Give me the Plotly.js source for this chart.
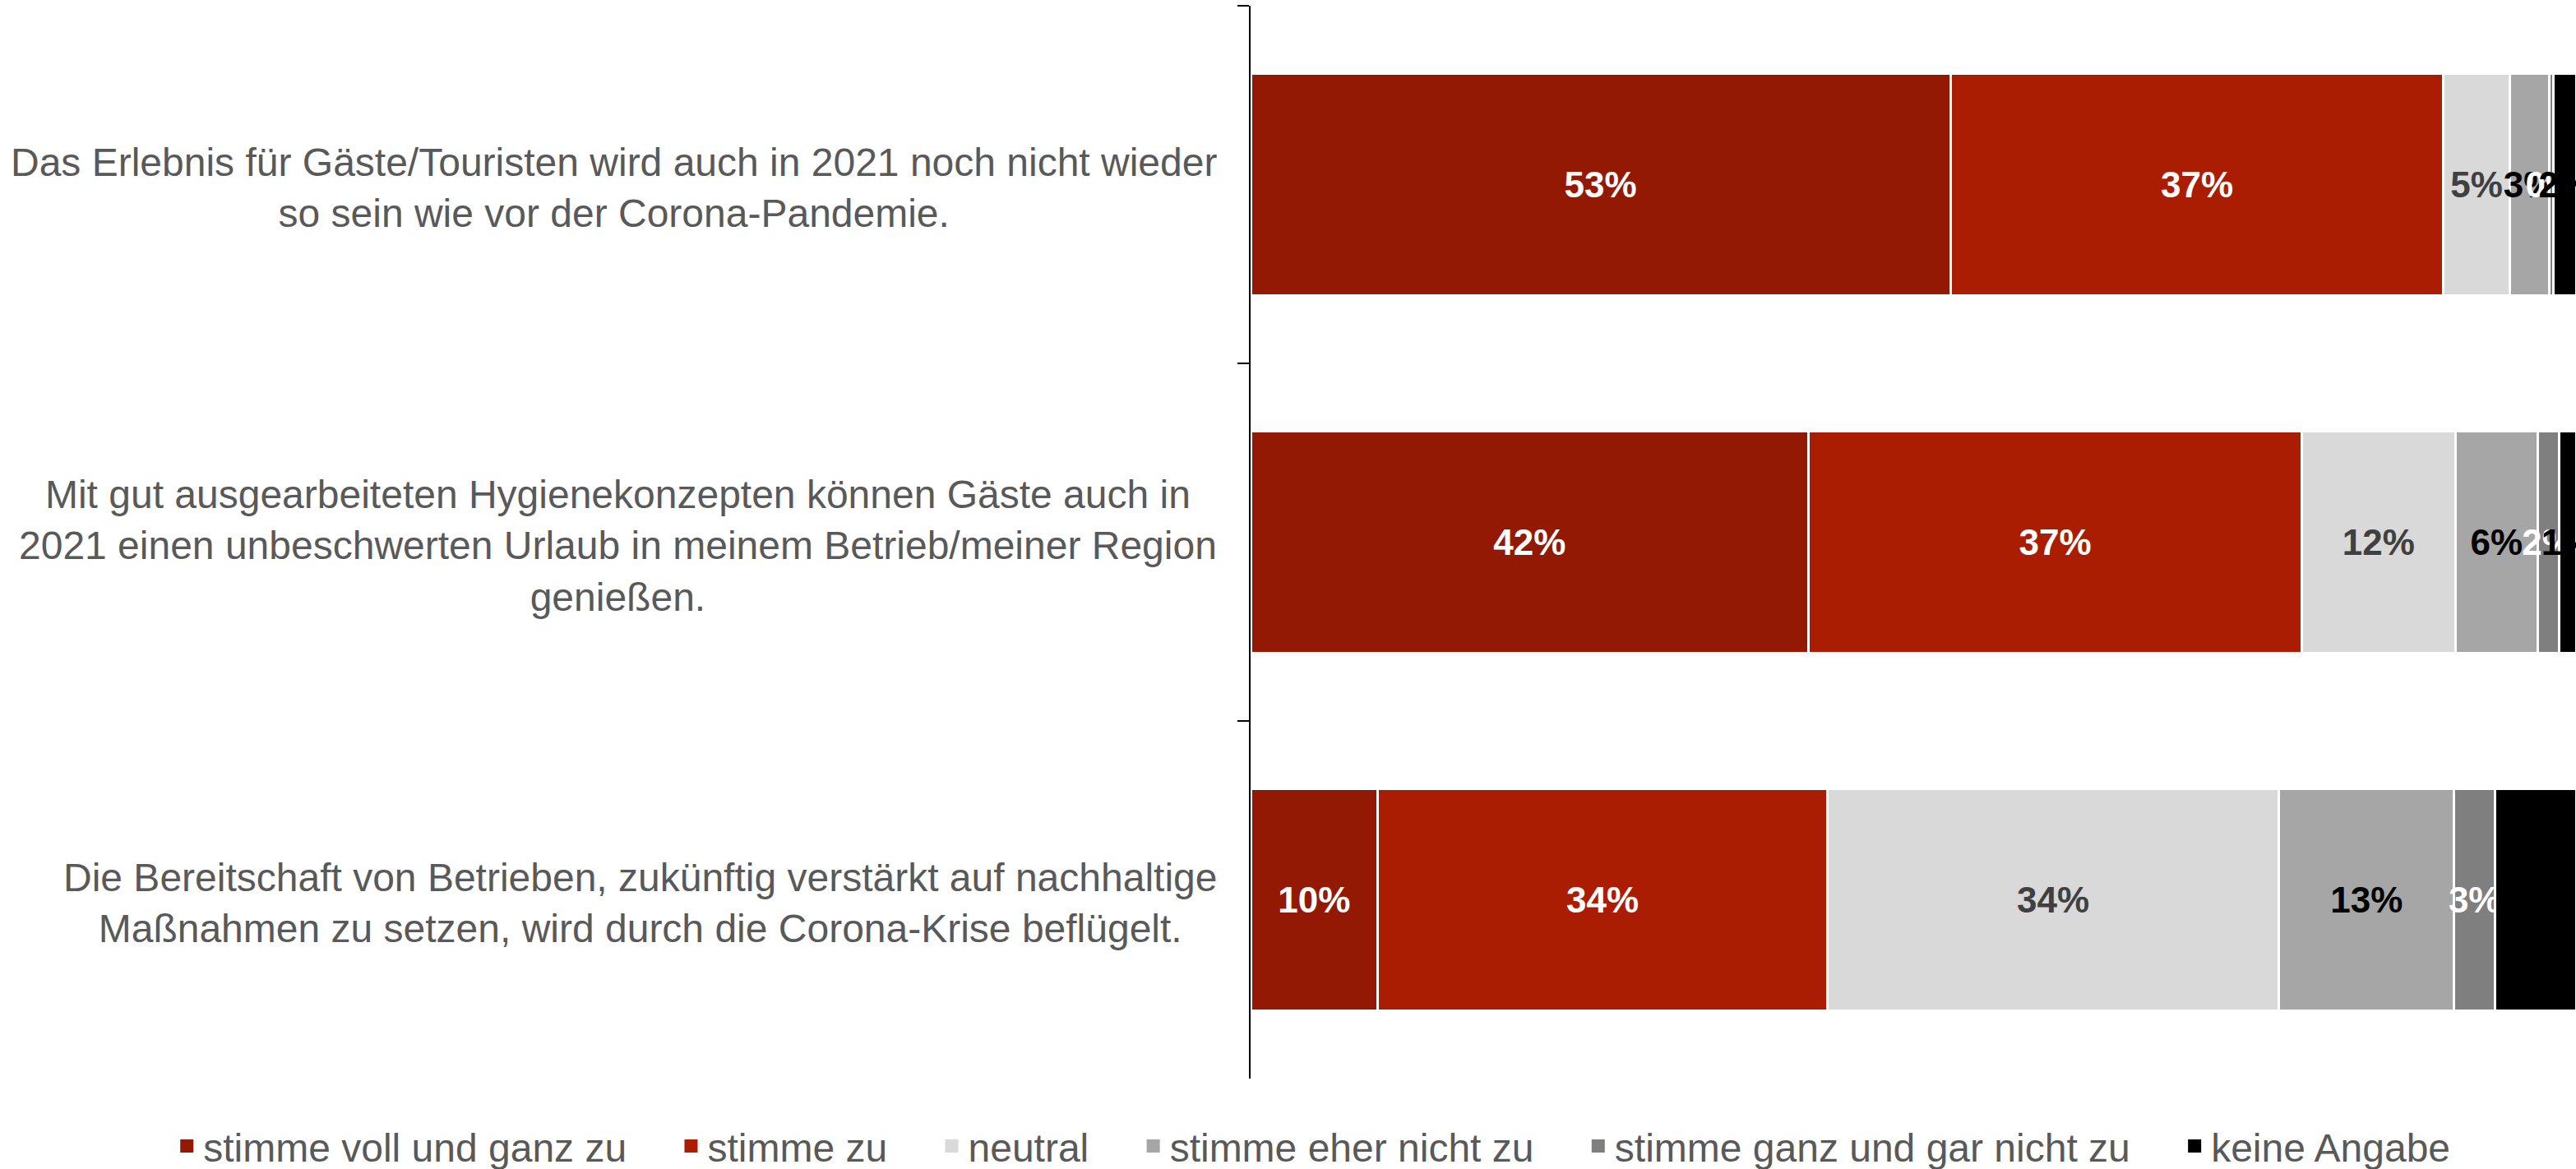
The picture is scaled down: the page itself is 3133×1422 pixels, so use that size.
<!DOCTYPE html>
<html>
<head>
<meta charset="utf-8">
<script src="https://cdn.plot.ly/plotly-3.0.1.min.js"></script>
<style>
  html, body { margin: 0; padding: 0; background: #fff; }
  #chart { width: 3133px; height: 1422px; }
</style>
</head>
<body>
<div id="chart"></div>
<script>
// Aussagen (von oben nach unten)
const statements = [
    'Das Erlebnis für Gäste/Touristen wird auch in 2021 noch nicht wieder<br>so sein wie vor der Corona-Pandemie.',
    'Mit gut ausgearbeiteten Hygienekonzepten können Gäste auch in<br>2021 einen unbeschwerten Urlaub in meinem Betrieb/meiner Region<br>genießen.',
    'Die Bereitschaft von Betrieben, zukünftig verstärkt auf nachhaltige<br>Maßnahmen zu setzen, wird durch die Corona-Krise beflügelt.'
];

// Anteile in Prozent, je Antwortkategorie
const vollUndGanz     = [52.8, 42.1, 9.6];
const stimmeZu        = [37.2, 37.2, 33.9];
const neutral         = [5.0, 11.6, 34.1];
const eherNicht       = [3.0, 6.2, 13.2];
const ganzUndGarNicht = [0.3, 1.6, 3.1];
const keineAngabe     = [1.7, 1.3, 6.1];

const seriesNames = [
    'stimme voll und ganz zu',
    'stimme zu',
    'neutral',
    'stimme eher nicht zu',
    'stimme ganz und gar nicht zu',
    'keine Angabe'
];
const seriesValues = [vollUndGanz, stimmeZu, neutral, eherNicht, ganzUndGarNicht, keineAngabe];
const barColors = ['#941902', '#ab1d02', '#d9d9d9', '#a6a6a6', '#7f7f7f', '#000000'];
const labelColors = ['#ffffff', '#ffffff', '#404040', '#000000', '#ffffff', '#000000'];

const FONT = '"Liberation Sans", Arial, sans-serif';
const PAD = '\u00a0\u00a0\u00a0\u00a0';

const barTraces = seriesNames.map((name, i) => ({
    type: 'bar',
    orientation: 'h',
    name: name,
    y: statements,
    x: seriesValues[i],
    showlegend: false,
    marker: { color: barColors[i], line: { color: '#ffffff', width: 3 } },
    texttemplate: '%{x:.0f}%',
    textposition: 'inside',
    insidetextanchor: 'middle',
    textangle: 0,
    constraintext: 'none',
    textfont: { family: FONT, size: 44, color: labelColors[i], weight: 'bold' },
    hoverinfo: 'skip'
}));

// Legendeneinträge mit größeren Quadraten (keine Daten)
const legendTraces = seriesNames.map((name, i) => ({
    type: 'scatter',
    mode: 'markers',
    name: i < seriesNames.length - 1 ? name + PAD : name,
    x: [null], y: [null],
    marker: { symbol: 'square', size: 18, color: barColors[i] },
    showlegend: true,
    hoverinfo: 'skip'
}));

// Beschriftungen links, zentriert ausgerichtet
const annotations = statements.map(s => ({
    xref: 'paper', yref: 'y',
    x: -0.024, y: s,
    xanchor: 'right', yanchor: 'middle',
    yshift: -4,
    text: s, align: 'center', showarrow: false,
    font: { family: FONT, size: 48, color: '#595959' }
}));

const layout = {
    barmode: 'stack',
    bargap: 0.38,
    width: 3133, height: 1422,
    margin: { l: 1521, r: 0, t: 7, b: 110, autoexpand: false },
    paper_bgcolor: '#ffffff', plot_bgcolor: '#ffffff',
    font: { family: FONT, color: '#595959' },
    showlegend: true,
    legend: {
        orientation: 'h',
        x: -0.815, xanchor: 'left',
        y: -0.063, yanchor: 'middle',
        font: { family: FONT, size: 48, color: '#595959' },
        itemwidth: 30,
        traceorder: 'normal'
    },
    xaxis: {
        range: [0, 100],
        visible: false,
        showgrid: false, zeroline: false
    },
    yaxis: {
        type: 'category',
        autorange: 'reversed',
        showticklabels: false,
        showline: true, linecolor: '#000000', linewidth: 2,
        ticks: 'outside', ticklen: 14, tickwidth: 2, tickcolor: '#000000',
        tickson: 'boundaries',
        showgrid: false, zeroline: false
    },
    annotations: annotations
};

Plotly.newPlot('chart', barTraces.concat(legendTraces), layout, { staticPlot: true, displayModeBar: false });
</script>
</body>
</html>
